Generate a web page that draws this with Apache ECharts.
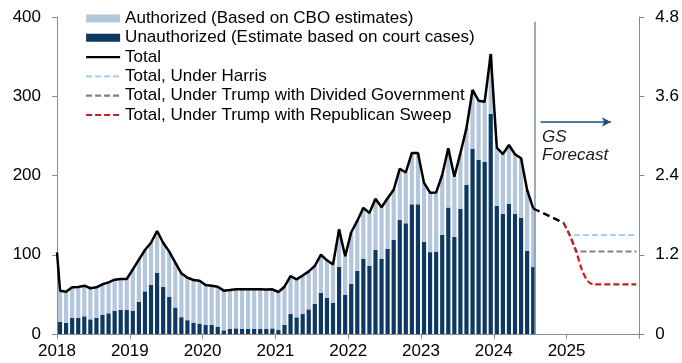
<!DOCTYPE html>
<html>
<head>
<meta charset="utf-8">
<script src="https://cdn.jsdelivr.net/npm/echarts@6/dist/echarts.min.js"></script>
<style>
  html, body { margin: 0; padding: 0; background: #ffffff; }
  #chart { width: 682px; height: 363px; }
</style>
</head>
<body>
<div id="chart"></div>
<script>
// Monthly border encounters, thousands (Jan 2018 .. Jul 2024)
const firstYear = 2018;
const lastYear = 2025;
const yearLabels = ['2018', '2019', '2020', '2021', '2022', '2023', '2024', '2025', ''];

const totalMonthly = [
  54.7, 53.4, 58.9, 59.3, 61.0, 57.7, 58.9, 62.7, 65.2, 68.6, 69.4, 69.4,
  81.6, 93.8, 106.0, 115.2, 130.0, 115.2, 103.9, 90.0, 76.6, 71.1, 68.1, 67.3,
  61.8, 61.0, 59.7, 54.7, 55.5, 56.4, 56.4, 56.4, 56.4, 56.4, 56.0, 56.4,
  53.0, 59.7, 73.0, 69.0, 73.8, 79.0, 86.0, 100.0, 93.0, 87.6, 132.0, 98.0,
  128.4, 142.7, 159.2, 152.7, 170.6, 159.9, 171.2, 182.0, 208.5, 203.8, 228.5, 228.5,
  190.6, 178.3, 178.7, 200.6, 234.3, 198.5, 228.0, 259.6, 307.9, 294.4, 293.1, 353.3,
  235.1, 227.1, 238.5, 226.8, 221.7, 181.7, 158.6
];

const unauthorizedMonthly = [
  15.5, 13.9, 20.6, 20.6, 22.3, 18.5, 20.6, 24.4, 26.1, 29.4, 30.3, 30.3,
  29.0, 40.8, 53.8, 62.2, 77.4, 59.5, 47.1, 33.4, 21.2, 17.4, 14.3, 13.2,
  11.4, 11.4, 9.3, 4.6, 6.5, 7.1, 6.7, 6.7, 6.7, 6.3, 6.7, 7.1,
  5.0, 11.4, 25.2, 21.0, 25.2, 31.1, 37.9, 52.1, 45.6, 39.5, 84.7, 49.2,
  63.1, 79.5, 95.0, 86.2, 106.0, 94.8, 107.4, 118.6, 143.8, 139.7, 163.6, 163.6,
  116.3, 103.3, 104.0, 125.0, 159.6, 122.6, 157.7, 188.4, 233.4, 219.6, 217.0, 277.6,
  161.5, 151.8, 164.0, 151.4, 146.4, 104.7, 84.5
];

// Level of the total series at the very start of January 2018
const totalOpening = 103;

// Forecast paths, annualised millions (right axis)
const sharedMonths = ['2024-07', '2024-12'];
const sharedValues = [1.90, 1.685];
const harrisMonths = ['2024-12', '2025-01', '2025-12'];
const harrisValues = [1.685, 1.50, 1.50];
const dividedMonths = ['2024-12', '2025-01', '2025-02', '2025-12'];
const dividedValues = [1.685, 1.50, 1.25, 1.25];
const sweepMonths = ['2024-12', '2025-01', '2025-02', '2025-03', '2025-04', '2025-05', '2025-12'];
const sweepValues = [1.685, 1.50, 1.28, 0.98, 0.80, 0.75, 0.75];

// Month "YYYY-MM" -> position on the value x axis (months since Jan 2018, mid-month)
function monthPos(s) {
  const [y, m] = s.split('-').map(Number);
  return (y - firstYear) * 12 + (m - 1) + 0.5;
}
function pairs(months, values) {
  return months.map((m, i) => [monthPos(m), values[i]]);
}

// One category per month for the bar axis
const monthCategories = [];
for (let y = firstYear; y <= lastYear; y++) {
  for (let m = 1; m <= 12; m++) monthCategories.push(y + '-' + String(m).padStart(2, '0'));
}

const authorizedMonthly = totalMonthly.map((v, i) => +(v - unauthorizedMonthly[i]).toFixed(1));
const totalData = [[0, totalOpening]].concat(totalMonthly.map((v, i) => [i + 0.5, v]));
const lastPos = totalMonthly.length - 0.25;

const FONT = '"Liberation Sans", Arial, sans-serif';
const chart = echarts.init(document.getElementById('chart'), null, { renderer: 'canvas' });

const dash = [6, 3];
const noMarker = { opacity: 0 };

chart.setOption({
  animation: false,
  backgroundColor: '#ffffff',
  textStyle: { fontFamily: FONT },
  grid: { left: 57, right: 41, top: 17, bottom: 29, containLabel: false },
  legend: {
    orient: 'vertical',
    left: 85,
    top: 10,
    itemWidth: 34,
    itemHeight: 8,
    itemGap: 2.3,
    padding: 0,
    lineStyle: { width: 2.2 },
    textStyle: { fontFamily: FONT, fontSize: 17, color: '#000' },
    data: [
      { name: 'Authorized (Based on CBO estimates)', icon: 'rect' },
      { name: 'Unauthorized (Estimate based on court cases)', icon: 'rect' },
      { name: 'Total', itemStyle: noMarker },
      { name: 'Total, Under Harris', itemStyle: noMarker },
      { name: 'Total, Under Trump with Divided Government', itemStyle: noMarker },
      { name: 'Total, Under Trump with Republican Sweep', itemStyle: noMarker }
    ]
  },
  xAxis: [
    {
      type: 'value',
      min: 0,
      max: 96,
      interval: 12,
      splitLine: { show: false },
      axisLine: { show: true, onZero: false, lineStyle: { color: '#8c8c8c', width: 1 } },
      axisTick: { show: true, inside: false, length: 5, lineStyle: { color: '#8c8c8c' } },
      axisLabel: {
        margin: 9,
        fontSize: 17,
        color: '#000',
        fontFamily: FONT,
        formatter: v => yearLabels[Math.round(v / 12)] || ''
      }
    },
    {
      type: 'category',
      data: monthCategories,
      boundaryGap: true,
      show: false
    }
  ],
  yAxis: [
    {
      type: 'value',
      min: 0,
      max: 400,
      interval: 100,
      position: 'left',
      splitLine: { show: false },
      axisLine: { show: true, lineStyle: { color: '#8c8c8c', width: 1 } },
      axisTick: { show: true, inside: false, length: 5, lineStyle: { color: '#8c8c8c' } },
      axisLabel: { margin: 16, fontSize: 17, color: '#000', fontFamily: FONT }
    },
    {
      type: 'value',
      min: 0,
      max: 4.8,
      interval: 1.2,
      position: 'right',
      splitLine: { show: false },
      axisLine: { show: true, lineStyle: { color: '#8c8c8c', width: 1 } },
      axisTick: { show: true, inside: false, length: 5, lineStyle: { color: '#8c8c8c' } },
      axisLabel: {
        margin: 16, fontSize: 17, color: '#000', fontFamily: FONT,
        formatter: v => (v === 0 ? '0' : v.toFixed(1))
      }
    }
  ],
  series: [
    {
      name: 'Unauthorized (Estimate based on court cases)',
      type: 'bar',
      xAxisIndex: 1,
      stack: 'enc',
      barWidth: 4.2,
      itemStyle: { color: '#0c3862' },
      data: unauthorizedMonthly,
      z: 2
    },
    {
      name: 'Authorized (Based on CBO estimates)',
      type: 'bar',
      xAxisIndex: 1,
      stack: 'enc',
      barWidth: 4.2,
      itemStyle: { color: '#b4c6dc' },
      data: authorizedMonthly,
      z: 2
    },
    {
      name: 'Total, Under Harris',
      type: 'line',
      yAxisIndex: 1,
      symbol: 'none',
      lineStyle: { color: '#9fd0ff', width: 2, type: dash },
      itemStyle: { color: '#9fd0ff' },
      data: pairs(harrisMonths, harrisValues),
      z: 3
    },
    {
      name: 'Total, Under Trump with Divided Government',
      type: 'line',
      yAxisIndex: 1,
      symbol: 'none',
      lineStyle: { color: '#808080', width: 2, type: dash },
      itemStyle: { color: '#808080' },
      data: pairs(dividedMonths, dividedValues),
      z: 4
    },
    {
      name: 'Total, Under Trump with Republican Sweep',
      type: 'line',
      yAxisIndex: 1,
      symbol: 'none',
      smooth: 0.3,
      lineStyle: { color: '#c41e24', width: 2.2, type: dash },
      itemStyle: { color: '#c41e24' },
      data: pairs(sweepMonths, sweepValues),
      z: 5
    },
    {
      name: 'shared forecast',
      type: 'line',
      yAxisIndex: 1,
      symbol: 'none',
      lineStyle: { color: '#000', width: 2.4, type: [7, 4] },
      data: pairs(sharedMonths, sharedValues),
      z: 5
    },
    {
      name: 'Total',
      type: 'line',
      symbol: 'none',
      lineStyle: { color: '#000', width: 2.5 },
      itemStyle: { color: '#000' },
      data: totalData,
      z: 6,
      markLine: {
        silent: true,
        animation: false,
        label: { show: false },
        data: [
          [
            { coord: [lastPos, 0], symbol: 'none', lineStyle: { color: '#8292a8', width: 1.5, type: 'solid' } },
            { coord: [lastPos, 394], symbol: 'none' }
          ],
          [
            { coord: [79.7, 267.5], symbol: 'none', lineStyle: { color: '#1f4f7d', width: 1.5, type: 'solid' } },
            { coord: [91.3, 267.5], symbol: 'arrow', symbolSize: [7, 9] }
          ]
        ]
      }
    }
  ],
  graphic: [
    {
      type: 'text',
      left: 542,
      top: 128,
      style: {
        text: 'GS\nForecast',
        font: 'italic 17px ' + FONT,
        fill: '#1a1a1a',
        lineHeight: 18
      }
    }
  ]
});
</script>
</body>
</html>
